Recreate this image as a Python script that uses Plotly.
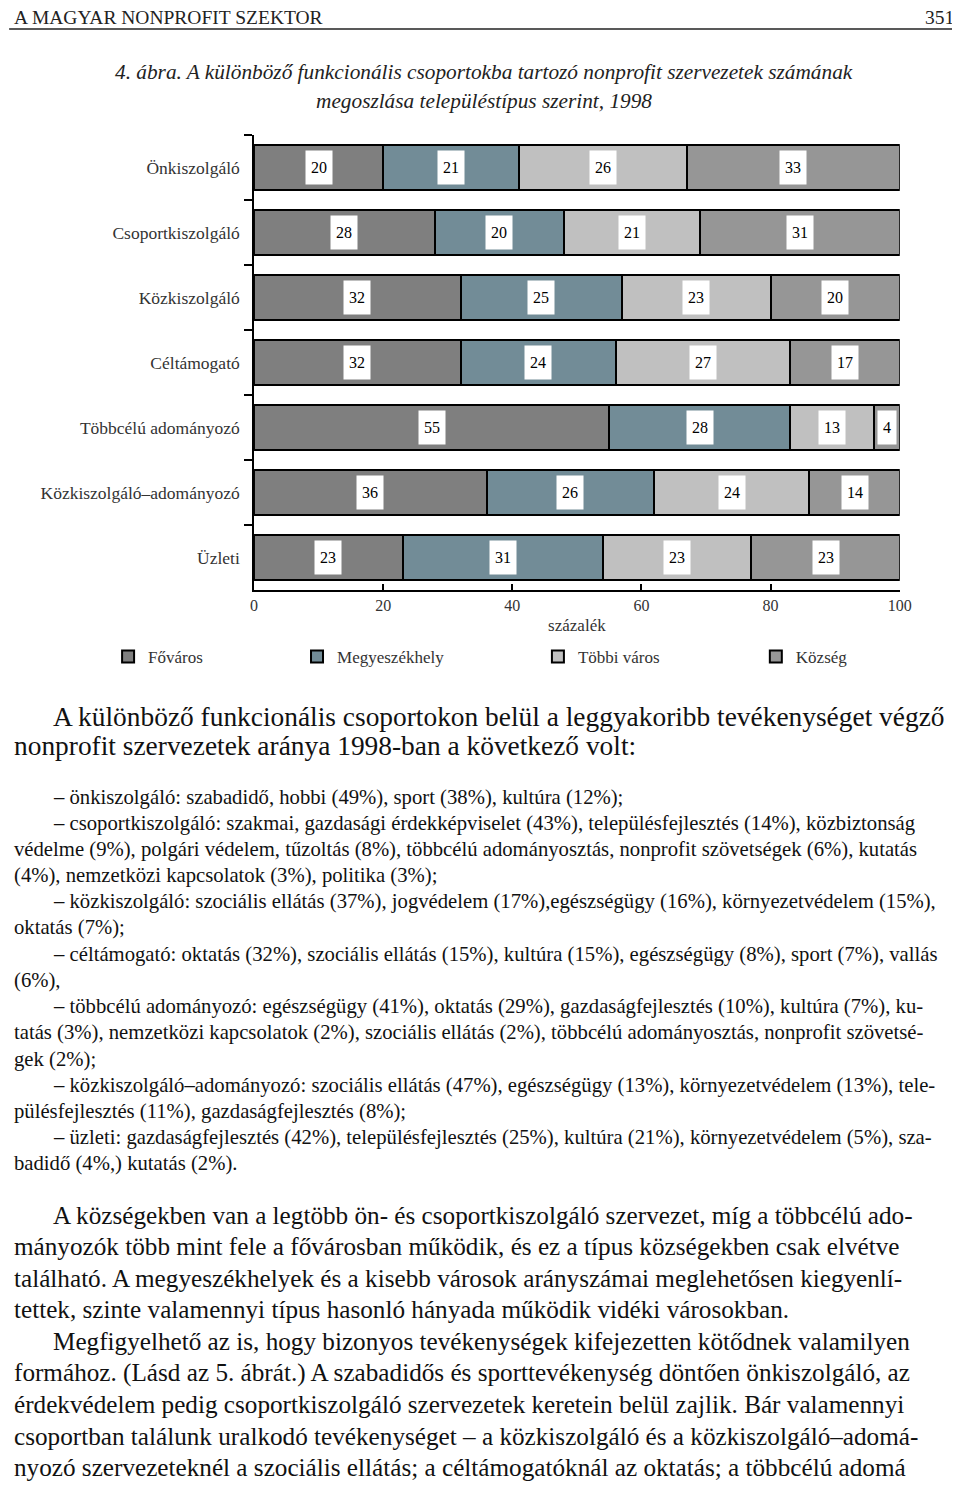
import plotly.graph_objects as go

# chart data
groups = ['Önkiszolgáló', 'Csoportkiszolgáló', 'Közkiszolgáló', 'Céltámogató',
          'Többcélú adományozó', 'Közkiszolgáló–adományozó', 'Üzleti']
fovaros = [20, 28, 32, 32, 55, 36, 23]
megyeszekhely = [21, 20, 25, 24, 28, 26, 31]
tobbi_varos = [26, 21, 23, 27, 13, 24, 23]
kozseg = [33, 31, 20, 17, 4, 14, 23]
x_ticks = [0, 20, 40, 60, 80, 100]

series = [('Főváros', fovaros, '#7f7f7f'),
          ('Megyeszékhely', megyeszekhely, '#728c97'),
          ('Többi város', tobbi_varos, '#c0c0c0'),
          ('Község', kozseg, '#969696')]

# page text
header_left = 'A MAGYAR NONPROFIT SZEKTOR'
header_right = '351'
title_lines = ['4. ábra. A különböző funkcionális csoportokba tartozó nonprofit szervezetek számának',
               'megoszlása településtípus szerint, 1998']
intro_lines = [(True, 'A különböző funkcionális csoportokon belül a leggyakoribb tevékenységet végző'),
               (False, 'nonprofit szervezetek aránya 1998-ban a következő volt:')]
list_lines = [
    (True, '– önkiszolgáló: szabadidő, hobbi (49%), sport (38%), kultúra (12%);'),
    (True, '– csoportkiszolgáló: szakmai, gazdasági érdekképviselet (43%), településfejlesztés (14%), közbiztonság'),
    (False, 'védelme (9%), polgári védelem, tűzoltás (8%), többcélú adományosztás, nonprofit szövetségek (6%), kutatás'),
    (False, '(4%), nemzetközi kapcsolatok (3%), politika (3%);'),
    (True, '– közkiszolgáló: szociális ellátás (37%), jogvédelem (17%),egészségügy (16%), környezetvédelem (15%),'),
    (False, 'oktatás (7%);'),
    (True, '– céltámogató: oktatás (32%), szociális ellátás (15%), kultúra (15%), egészségügy (8%), sport (7%), vallás'),
    (False, '(6%),'),
    (True, '– többcélú adományozó: egészségügy (41%), oktatás (29%), gazdaságfejlesztés (10%), kultúra (7%), ku-'),
    (False, 'tatás (3%), nemzetközi kapcsolatok (2%), szociális ellátás (2%), többcélú adományosztás, nonprofit szövetsé-'),
    (False, 'gek (2%);'),
    (True, '– közkiszolgáló–adományozó: szociális ellátás (47%), egészségügy (13%), környezetvédelem (13%), tele-'),
    (False, 'pülésfejlesztés (11%), gazdaságfejlesztés (8%);'),
    (True, '– üzleti: gazdaságfejlesztés (42%), településfejlesztés (25%), kultúra (21%), környezetvédelem (5%), sza-'),
    (False, 'badidő (4%,) kutatás (2%).'),
]
body_lines = [
    (True, 'A községekben van a legtöbb ön- és csoportkiszolgáló szervezet, míg a többcélú ado-'),
    (False, 'mányozók több mint fele a fővárosban működik, és ez a típus községekben csak elvétve'),
    (False, 'található. A megyeszékhelyek és a kisebb városok arányszámai meglehetősen kiegyenlí-'),
    (False, 'tettek, szinte valamennyi típus hasonló hányada működik vidéki városokban.'),
    (True, 'Megfigyelhető az is, hogy bizonyos tevékenységek kifejezetten kötődnek valamilyen'),
    (False, 'formához. (Lásd az 5. ábrát.) A szabadidős és sporttevékenység döntően önkiszolgáló, az'),
    (False, 'érdekvédelem pedig csoportkiszolgáló szervezetek keretein belül zajlik. Bár valamennyi'),
    (False, 'csoportban találunk uralkodó tevékenységet – a közkiszolgáló és a közkiszolgáló–adomá-'),
    (False, 'nyozó szervezeteknél a szociális ellátás; a céltámogatóknál az oktatás; a többcélú adomá'),
]

# the page body adds an 8px margin and the photo comes out slightly narrower,
# so page positions are mapped into figure fractions here
OFF = 8
SX = 0.984
W, H = 976, 1485
FONT = 'Liberation Serif'


def px(x):
    return (x / SX - OFF) / W


def py(y):
    return 1 - (y - OFF) / H


fig = go.Figure()
legend_text_x = [142, 331, 572, 790]
for i, (name, vals, color) in enumerate(series):
    lg = 'legend' if i == 0 else f'legend{i + 1}'
    fig.add_trace(go.Bar(y=groups, x=vals, name=name, orientation='h', width=0.68,
                         marker=dict(color=color, line=dict(color='black', width=2)),
                         legend=lg, showlegend=True, hoverinfo='x+name'))
    fig.update_layout({lg: dict(x=px(legend_text_x[i] - 38), y=py(657), xanchor='left', yanchor='middle',
                                orientation='h', bgcolor='rgba(0,0,0,0)',
                                font=dict(family=FONT, size=17, color='#333'))})

# value labels in white boxes
start = [0] * len(groups)
for name, vals, color in series:
    for j, v in enumerate(vals):
        fig.add_annotation(x=start[j] + v / 2, y=groups[j], text=str(v), showarrow=False,
                           xref='x', yref='y', bgcolor='white', width=8 * len(str(v)) + 8, height=31,
                           font=dict(family=FONT, size=16, color='black'))
        start[j] += v

fig.update_layout(
    width=W, height=H, autosize=False, barmode='stack', showlegend=True,
    margin=dict(l=0, r=0, t=0, b=0),
    paper_bgcolor='white', plot_bgcolor='white',
    font=dict(family=FONT, color='#333'),
)
fig.update_xaxes(domain=[px(250), px(896)], range=[0, 100], tickvals=x_ticks,
                 ticks='inside', ticklen=6, tickwidth=1.5, tickcolor='black',
                 showline=True, linecolor='black', linewidth=1.5, showgrid=False, zeroline=False,
                 tickfont=dict(family=FONT, size=16, color='#333'),
                 title=dict(text='százalék', standoff=6, font=dict(family=FONT, size=17, color='#333')))
fig.update_yaxes(domain=[py(590), py(135)], autorange='reversed',
                 ticks='outside', tickson='boundaries', ticklen=8, tickwidth=1.5, tickcolor='black',
                 showline=True, linecolor='black', linewidth=1.5, showgrid=False,
                 ticklabelstandoff=9,
                 tickfont=dict(family=FONT, size=17.5, color='#333'))

# page header
fig.add_annotation(x=px(8), y=py(18), text=header_left, xref='paper', yref='paper', showarrow=False,
                   xanchor='left', yanchor='middle', font=dict(family=FONT, size=19.5, color='#222'))
fig.add_annotation(x=px(952), y=py(18), text=header_right, xref='paper', yref='paper', showarrow=False,
                   xanchor='right', yanchor='middle', font=dict(family=FONT, size=19.5, color='#222'))
fig.add_shape(type='line', xref='paper', yref='paper', x0=px(5), x1=px(955), y0=py(29), y1=py(29),
              line=dict(color='#222', width=1.5))

for k, t in enumerate(title_lines):
    fig.add_annotation(x=px(480), y=py(72 + 29 * k), text=f'<i>{t}</i>', xref='paper', yref='paper',
                       showarrow=False, xanchor='center', yanchor='middle',
                       font=dict(family=FONT, size=21.3, color='#222'))


def add_block(lines, top, step, size):
    for k, (indent, t) in enumerate(lines):
        fig.add_annotation(x=px(47 if indent else 8), y=py(top + step * k), text=t,
                           xref='paper', yref='paper', showarrow=False,
                           xanchor='left', yanchor='middle',
                           font=dict(family=FONT, size=size, color='#111'))


add_block(intro_lines, 717, 29, 27.4)
add_block(list_lines, 797, 26.2, 20.7)
add_block(body_lines, 1215, 31.6, 25.2)

fig.write_html("out.html", config={'responsive': False})
